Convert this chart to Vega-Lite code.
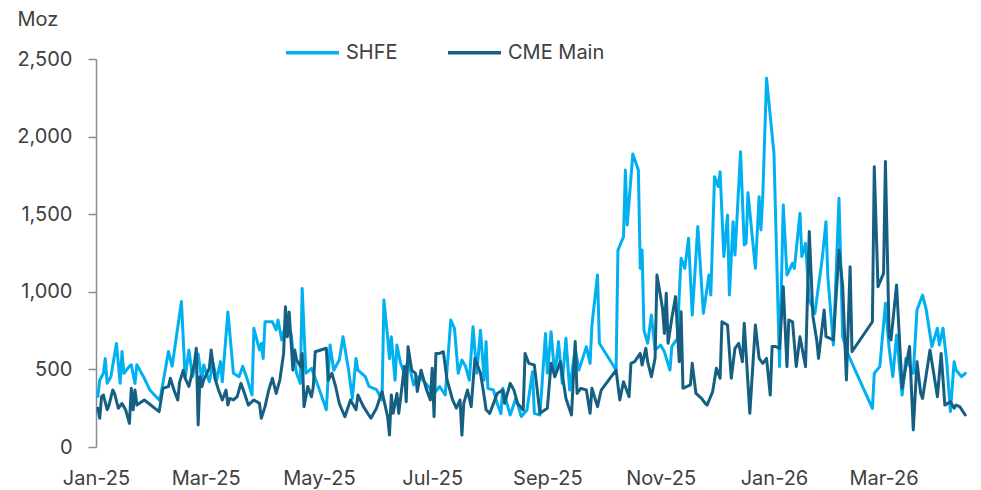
{
"$schema": "https://vega.github.io/schema/vega-lite/v6.json",
"width": 873, "height": 388,
"autosize": "none",
"padding": {"left": 96, "top": 59, "right": 12, "bottom": 43},
"background": "white",
"config": {"view": {"stroke": null}, "font": "Inter",
 "axis": {"labelFont": "Inter", "labelFontSize": 20, "labelColor": "#404040", "titleFont": "Inter", "titleColor": "#404040", "grid": false}},
"datasets": {
"shfe": [
{"d":"2025-01-02","v":325},{"d":"2025-01-03","v":430},{"d":"2025-01-05","v":475},{"d":"2025-01-06","v":570},{"d":"2025-01-07","v":410},{"d":"2025-01-09","v":453},{"d":"2025-01-12","v":667},{"d":"2025-01-14","v":410},{"d":"2025-01-15","v":615},{"d":"2025-01-16","v":475},{"d":"2025-01-19","v":520},{"d":"2025-01-20","v":530},{"d":"2025-01-22","v":410},{"d":"2025-01-23","v":530},{"d":"2025-01-27","v":443},{"d":"2025-01-30","v":367},{"d":"2025-02-04","v":303},{"d":"2025-02-05","v":340},{"d":"2025-02-09","v":615},{"d":"2025-02-11","v":520},{"d":"2025-02-16","v":937},{"d":"2025-02-18","v":443},{"d":"2025-02-20","v":625},{"d":"2025-02-22","v":453},{"d":"2025-02-25","v":600},{"d":"2025-02-27","v":432},{"d":"2025-02-28","v":528},{"d":"2025-03-03","v":420},{"d":"2025-03-05","v":540},{"d":"2025-03-07","v":432},{"d":"2025-03-09","v":550},{"d":"2025-03-10","v":420},{"d":"2025-03-13","v":870},{"d":"2025-03-16","v":475},{"d":"2025-03-19","v":453},{"d":"2025-03-21","v":520},{"d":"2025-03-23","v":453},{"d":"2025-03-26","v":335},{"d":"2025-03-27","v":765},{"d":"2025-03-30","v":625},{"d":"2025-03-31","v":667},{"d":"2025-04-01","v":570},{"d":"2025-04-02","v":807},{"d":"2025-04-06","v":807},{"d":"2025-04-08","v":755},{"d":"2025-04-09","v":818},{"d":"2025-04-11","v":690},{"d":"2025-04-13","v":785},{"d":"2025-04-16","v":733},{"d":"2025-04-17","v":625},{"d":"2025-04-19","v":475},{"d":"2025-04-21","v":410},{"d":"2025-04-22","v":1022},{"d":"2025-04-24","v":475},{"d":"2025-04-27","v":507},{"d":"2025-05-01","v":378},{"d":"2025-05-05","v":240},{"d":"2025-05-07","v":657},{"d":"2025-05-09","v":495},{"d":"2025-05-12","v":560},{"d":"2025-05-14","v":710},{"d":"2025-05-17","v":495},{"d":"2025-05-19","v":313},{"d":"2025-05-21","v":571},{"d":"2025-05-22","v":495},{"d":"2025-05-26","v":453},{"d":"2025-05-28","v":390},{"d":"2025-06-01","v":370},{"d":"2025-06-04","v":303},{"d":"2025-06-05","v":947},{"d":"2025-06-07","v":710},{"d":"2025-06-08","v":570},{"d":"2025-06-09","v":710},{"d":"2025-06-11","v":430},{"d":"2025-06-12","v":657},{"d":"2025-06-14","v":539},{"d":"2025-06-16","v":475},{"d":"2025-06-18","v":560},{"d":"2025-06-21","v":400},{"d":"2025-06-23","v":453},{"d":"2025-06-26","v":432},{"d":"2025-07-02","v":345},{"d":"2025-07-05","v":390},{"d":"2025-07-08","v":335},{"d":"2025-07-11","v":818},{"d":"2025-07-13","v":765},{"d":"2025-07-15","v":475},{"d":"2025-07-17","v":560},{"d":"2025-07-19","v":518},{"d":"2025-07-21","v":430},{"d":"2025-07-23","v":775},{"d":"2025-07-25","v":475},{"d":"2025-07-27","v":753},{"d":"2025-07-29","v":430},{"d":"2025-07-30","v":680},{"d":"2025-07-31","v":378},{"d":"2025-08-03","v":367},{"d":"2025-08-05","v":280},{"d":"2025-08-07","v":215},{"d":"2025-08-08","v":378},{"d":"2025-08-12","v":206},{"d":"2025-08-15","v":313},{"d":"2025-08-18","v":196},{"d":"2025-08-21","v":238},{"d":"2025-08-24","v":485},{"d":"2025-08-25","v":217},{"d":"2025-08-28","v":206},{"d":"2025-08-31","v":732},{"d":"2025-09-01","v":475},{"d":"2025-09-03","v":743},{"d":"2025-09-05","v":453},{"d":"2025-09-07","v":679},{"d":"2025-09-09","v":410},{"d":"2025-09-11","v":700},{"d":"2025-09-13","v":367},{"d":"2025-09-16","v":636},{"d":"2025-09-18","v":496},{"d":"2025-09-20","v":571},{"d":"2025-09-22","v":647},{"d":"2025-09-24","v":539},{"d":"2025-09-25","v":786},{"d":"2025-09-28","v":1108},{"d":"2025-09-29","v":668},{"d":"2025-10-08","v":496},{"d":"2025-10-09","v":1269},{"d":"2025-10-12","v":1355},{"d":"2025-10-13","v":1785},{"d":"2025-10-14","v":1430},{"d":"2025-10-17","v":1888},{"d":"2025-10-20","v":1785},{"d":"2025-10-21","v":1151},{"d":"2025-10-22","v":1269},{"d":"2025-10-23","v":754},{"d":"2025-10-25","v":668},{"d":"2025-10-27","v":850},{"d":"2025-10-29","v":625},{"d":"2025-11-01","v":657},{"d":"2025-11-03","v":614},{"d":"2025-11-06","v":496},{"d":"2025-11-07","v":647},{"d":"2025-11-10","v":700},{"d":"2025-11-11","v":979},{"d":"2025-11-12","v":1216},{"d":"2025-11-14","v":1151},{"d":"2025-11-16","v":1345},{"d":"2025-11-18","v":850},{"d":"2025-11-21","v":1420},{"d":"2025-11-24","v":861},{"d":"2025-11-27","v":1108},{"d":"2025-11-28","v":979},{"d":"2025-11-30","v":1742},{"d":"2025-12-02","v":1678},{"d":"2025-12-03","v":1774},{"d":"2025-12-05","v":1227},{"d":"2025-12-07","v":1495},{"d":"2025-12-08","v":979},{"d":"2025-12-10","v":1452},{"d":"2025-12-11","v":1237},{"d":"2025-12-12","v":1452},{"d":"2025-12-14","v":1903},{"d":"2025-12-16","v":1302},{"d":"2025-12-17","v":1312},{"d":"2025-12-18","v":1639},{"d":"2025-12-22","v":1151},{"d":"2025-12-24","v":1613},{"d":"2025-12-25","v":1398},{"d":"2025-12-26","v":1624},{"d":"2025-12-28","v":2376},{"d":"2026-01-01","v":1892},{"d":"2026-01-04","v":518},{"d":"2026-01-06","v":1559},{"d":"2026-01-08","v":1108},{"d":"2026-01-11","v":1184},{"d":"2026-01-12","v":1151},{"d":"2026-01-15","v":1506},{"d":"2026-01-16","v":1227},{"d":"2026-01-18","v":1312},{"d":"2026-01-20","v":947},{"d":"2026-01-23","v":860},{"d":"2026-01-27","v":1216},{"d":"2026-01-29","v":1452},{"d":"2026-01-30","v":1098},{"d":"2026-02-02","v":657},{"d":"2026-02-05","v":1602},{"d":"2026-02-07","v":711},{"d":"2026-02-10","v":593},{"d":"2026-02-23","v":249},{"d":"2026-02-24","v":475},{"d":"2026-02-27","v":518},{"d":"2026-03-02","v":926},{"d":"2026-03-04","v":636},{"d":"2026-03-06","v":453},{"d":"2026-03-08","v":722},{"d":"2026-03-11","v":335},{"d":"2026-03-13","v":571},{"d":"2026-03-17","v":475},{"d":"2026-03-19","v":883},{"d":"2026-03-22","v":979},{"d":"2026-03-24","v":883},{"d":"2026-03-27","v":647},{"d":"2026-03-30","v":765},{"d":"2026-03-31","v":657},{"d":"2026-04-02","v":765},{"d":"2026-04-04","v":550},{"d":"2026-04-06","v":228},{"d":"2026-04-08","v":550},{"d":"2026-04-09","v":496},{"d":"2026-04-12","v":453},{"d":"2026-04-14","v":475}
],
"cme": [
{"d":"2025-01-02","v":250},{"d":"2025-01-03","v":185},{"d":"2025-01-04","v":325},{"d":"2025-01-05","v":335},{"d":"2025-01-07","v":240},{"d":"2025-01-08","v":270},{"d":"2025-01-10","v":367},{"d":"2025-01-11","v":345},{"d":"2025-01-13","v":250},{"d":"2025-01-15","v":280},{"d":"2025-01-17","v":238},{"d":"2025-01-19","v":152},{"d":"2025-01-20","v":378},{"d":"2025-01-21","v":240},{"d":"2025-01-22","v":367},{"d":"2025-01-23","v":270},{"d":"2025-01-27","v":303},{"d":"2025-02-04","v":228},{"d":"2025-02-06","v":378},{"d":"2025-02-09","v":390},{"d":"2025-02-10","v":443},{"d":"2025-02-12","v":367},{"d":"2025-02-14","v":303},{"d":"2025-02-15","v":418},{"d":"2025-02-17","v":495},{"d":"2025-02-18","v":443},{"d":"2025-02-20","v":390},{"d":"2025-02-23","v":540},{"d":"2025-02-24","v":636},{"d":"2025-02-25","v":142},{"d":"2025-02-26","v":453},{"d":"2025-02-27","v":390},{"d":"2025-02-28","v":432},{"d":"2025-03-03","v":507},{"d":"2025-03-04","v":625},{"d":"2025-03-06","v":443},{"d":"2025-03-08","v":367},{"d":"2025-03-10","v":303},{"d":"2025-03-12","v":367},{"d":"2025-03-13","v":270},{"d":"2025-03-14","v":313},{"d":"2025-03-16","v":303},{"d":"2025-03-18","v":324},{"d":"2025-03-20","v":410},{"d":"2025-03-22","v":345},{"d":"2025-03-24","v":270},{"d":"2025-03-27","v":303},{"d":"2025-03-30","v":281},{"d":"2025-03-31","v":185},{"d":"2025-04-02","v":260},{"d":"2025-04-04","v":367},{"d":"2025-04-06","v":443},{"d":"2025-04-08","v":345},{"d":"2025-04-10","v":433},{"d":"2025-04-12","v":603},{"d":"2025-04-13","v":904},{"d":"2025-04-14","v":710},{"d":"2025-04-15","v":870},{"d":"2025-04-17","v":495},{"d":"2025-04-18","v":625},{"d":"2025-04-19","v":560},{"d":"2025-04-21","v":518},{"d":"2025-04-22","v":603},{"d":"2025-04-23","v":260},{"d":"2025-04-25","v":390},{"d":"2025-04-27","v":324},{"d":"2025-04-28","v":390},{"d":"2025-04-29","v":614},{"d":"2025-05-05","v":636},{"d":"2025-05-06","v":430},{"d":"2025-05-08","v":475},{"d":"2025-05-10","v":390},{"d":"2025-05-12","v":280},{"d":"2025-05-15","v":195},{"d":"2025-05-18","v":303},{"d":"2025-05-21","v":240},{"d":"2025-05-22","v":335},{"d":"2025-05-25","v":260},{"d":"2025-05-29","v":185},{"d":"2025-06-01","v":250},{"d":"2025-06-04","v":357},{"d":"2025-06-07","v":195},{"d":"2025-06-08","v":77},{"d":"2025-06-09","v":335},{"d":"2025-06-10","v":217},{"d":"2025-06-12","v":345},{"d":"2025-06-13","v":217},{"d":"2025-06-16","v":518},{"d":"2025-06-17","v":292},{"d":"2025-06-18","v":646},{"d":"2025-06-20","v":495},{"d":"2025-06-22","v":475},{"d":"2025-06-23","v":357},{"d":"2025-06-25","v":495},{"d":"2025-06-28","v":367},{"d":"2025-06-30","v":303},{"d":"2025-07-01","v":507},{"d":"2025-07-02","v":195},{"d":"2025-07-03","v":603},{"d":"2025-07-05","v":603},{"d":"2025-07-07","v":614},{"d":"2025-07-09","v":432},{"d":"2025-07-12","v":303},{"d":"2025-07-14","v":250},{"d":"2025-07-16","v":303},{"d":"2025-07-17","v":77},{"d":"2025-07-18","v":281},{"d":"2025-07-20","v":367},{"d":"2025-07-22","v":260},{"d":"2025-07-24","v":571},{"d":"2025-07-27","v":475},{"d":"2025-07-29","v":325},{"d":"2025-07-30","v":240},{"d":"2025-08-01","v":217},{"d":"2025-08-03","v":281},{"d":"2025-08-05","v":345},{"d":"2025-08-08","v":367},{"d":"2025-08-09","v":281},{"d":"2025-08-12","v":410},{"d":"2025-08-14","v":367},{"d":"2025-08-16","v":281},{"d":"2025-08-19","v":238},{"d":"2025-08-20","v":603},{"d":"2025-08-22","v":539},{"d":"2025-08-25","v":528},{"d":"2025-08-28","v":217},{"d":"2025-09-01","v":250},{"d":"2025-09-03","v":539},{"d":"2025-09-05","v":453},{"d":"2025-09-08","v":550},{"d":"2025-09-11","v":313},{"d":"2025-09-14","v":206},{"d":"2025-09-16","v":679},{"d":"2025-09-17","v":345},{"d":"2025-09-19","v":378},{"d":"2025-09-22","v":367},{"d":"2025-09-24","v":217},{"d":"2025-09-25","v":378},{"d":"2025-09-28","v":260},{"d":"2025-09-30","v":367},{"d":"2025-10-08","v":496},{"d":"2025-10-10","v":303},{"d":"2025-10-12","v":421},{"d":"2025-10-15","v":324},{"d":"2025-10-16","v":539},{"d":"2025-10-18","v":550},{"d":"2025-10-21","v":603},{"d":"2025-10-22","v":528},{"d":"2025-10-24","v":636},{"d":"2025-10-25","v":550},{"d":"2025-10-27","v":453},{"d":"2025-10-29","v":571},{"d":"2025-10-30","v":1108},{"d":"2025-11-02","v":894},{"d":"2025-11-03","v":732},{"d":"2025-11-04","v":990},{"d":"2025-11-05","v":668},{"d":"2025-11-07","v":829},{"d":"2025-11-09","v":969},{"d":"2025-11-11","v":550},{"d":"2025-11-12","v":872},{"d":"2025-11-13","v":378},{"d":"2025-11-17","v":400},{"d":"2025-11-18","v":539},{"d":"2025-11-20","v":345},{"d":"2025-11-23","v":313},{"d":"2025-11-25","v":281},{"d":"2025-11-26","v":270},{"d":"2025-11-29","v":357},{"d":"2025-12-01","v":507},{"d":"2025-12-03","v":443},{"d":"2025-12-04","v":807},{"d":"2025-12-07","v":786},{"d":"2025-12-09","v":443},{"d":"2025-12-11","v":636},{"d":"2025-12-13","v":668},{"d":"2025-12-15","v":550},{"d":"2025-12-16","v":797},{"d":"2025-12-19","v":217},{"d":"2025-12-22","v":786},{"d":"2025-12-24","v":571},{"d":"2025-12-26","v":539},{"d":"2025-12-28","v":571},{"d":"2025-12-30","v":335},{"d":"2025-12-31","v":647},{"d":"2026-01-02","v":647},{"d":"2026-01-04","v":636},{"d":"2026-01-06","v":1033},{"d":"2026-01-08","v":518},{"d":"2026-01-09","v":818},{"d":"2026-01-11","v":807},{"d":"2026-01-13","v":518},{"d":"2026-01-15","v":711},{"d":"2026-01-18","v":518},{"d":"2026-01-20","v":1388},{"d":"2026-01-22","v":840},{"d":"2026-01-24","v":690},{"d":"2026-01-25","v":571},{"d":"2026-01-28","v":883},{"d":"2026-01-29","v":711},{"d":"2026-02-02","v":690},{"d":"2026-02-05","v":1269},{"d":"2026-02-07","v":1033},{"d":"2026-02-09","v":432},{"d":"2026-02-11","v":1162},{"d":"2026-02-12","v":614},{"d":"2026-02-23","v":807},{"d":"2026-02-24","v":1806},{"d":"2026-02-26","v":1033},{"d":"2026-03-01","v":1119},{"d":"2026-03-02","v":1839},{"d":"2026-03-04","v":711},{"d":"2026-03-05","v":690},{"d":"2026-03-08","v":1044},{"d":"2026-03-11","v":378},{"d":"2026-03-13","v":518},{"d":"2026-03-15","v":647},{"d":"2026-03-17","v":110},{"d":"2026-03-19","v":550},{"d":"2026-03-21","v":345},{"d":"2026-03-22","v":313},{"d":"2026-03-26","v":625},{"d":"2026-03-30","v":324},{"d":"2026-04-01","v":603},{"d":"2026-04-03","v":270},{"d":"2026-04-06","v":292},{"d":"2026-04-08","v":250},{"d":"2026-04-09","v":270},{"d":"2026-04-11","v":260},{"d":"2026-04-14","v":206}
]
},
"encoding": {
 "x": {"field": "d", "type": "temporal",
  "scale": {"type": "utc", "domain": [{"year": 2025, "month": 1, "date": 1, "utc": true}, {"year": 2026, "month": 4, "date": 16, "utc": true}]},
  "axis": {"title": null, "labelExpr": "utcFormat(datum.value, '%b-%y')", "domain": false, "ticks": false, "tickSize": 0, "labelPadding": 37, "labelBaseline": "alphabetic", "labelFlush": false, "labelOverlap": false,
   "values": [{"year": 2025, "month": 1, "date": 1, "utc": true}, {"year": 2025, "month": 3, "date": 1, "utc": true}, {"year": 2025, "month": 5, "date": 1, "utc": true}, {"year": 2025, "month": 7, "date": 1, "utc": true}, {"year": 2025, "month": 9, "date": 1, "utc": true}, {"year": 2025, "month": 11, "date": 1, "utc": true}, {"year": 2026, "month": 1, "date": 1, "utc": true}, {"year": 2026, "month": 3, "date": 1, "utc": true}]}},
 "y": {"field": "v", "type": "quantitative",
  "scale": {"domain": [0, 2500], "nice": false},
  "axis": {"values": [0, 500, 1000, 1500, 2000, 2500], "format": ",.0f", "tickSize": 8, "tickColor": "#8c8c8c", "tickWidth": 1.5, "domainColor": "#8c8c8c", "domainWidth": 1.5, "labelPadding": 16,
   "title": "Moz", "titleAngle": 0, "titleAlign": "left", "titleBaseline": "alphabetic", "titleX": -79, "titleY": -34, "titleFontSize": 20, "titleFontWeight": "normal"}},
 "color": {"field": "s", "type": "nominal",
  "scale": {"domain": ["SHFE", "CME Main"], "range": ["#00B0F0", "#156082"]},
  "legend": {"orient": "none", "legendX": 188, "legendY": -35, "direction": "horizontal", "title": null, "symbolType": "stroke", "symbolSize": 2809, "symbolStrokeWidth": 3.5, "labelFont": "Inter", "labelFontSize": 20, "labelColor": "#404040", "labelOffset": 5, "columnPadding": 43, "padding": 0}}
},
"layer": [
 {"data": {"name": "shfe"}, "transform": [{"calculate": "'SHFE'", "as": "s"}], "mark": {"type": "line", "strokeWidth": 3, "strokeJoin": "round", "strokeCap": "round"}},
 {"data": {"name": "cme"}, "transform": [{"calculate": "'CME Main'", "as": "s"}], "mark": {"type": "line", "strokeWidth": 3, "strokeJoin": "round", "strokeCap": "round"}}
]
}
